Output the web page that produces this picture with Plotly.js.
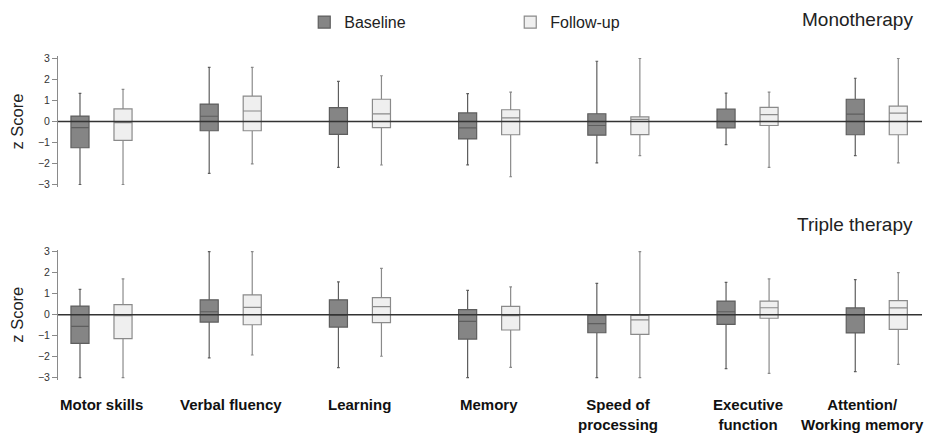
<!DOCTYPE html>
<html>
<head>
<meta charset="utf-8">
<script src="https://cdn.plot.ly/plotly-3.0.1.min.js"></script>
<style>html,body{margin:0;padding:0;background:#fff;}#chart{width:927px;height:434px;}</style>
</head>
<body>
<div id="chart"></div>
<script>
const categories = ['Motor skills','Verbal fluency','Learning','Memory','Speed of processing','Executive function','Attention/ Working memory'];
const categoryLabels = ['Motor skills','Verbal fluency','Learning','Memory','Speed of<br>processing','Executive<br>function','Attention/<br>Working memory'];
const yTicks = [-3,-2,-1,0,1,2,3];

// Monotherapy - Baseline
const monoBaseUpper  = [1.34, 2.58, 1.91, 1.33, 2.87, 1.35, 2.06];
const monoBaseQ3     = [0.26, 0.83, 0.66, 0.41, 0.37, 0.59, 1.06];
const monoBaseMedian = [-0.29, 0.25, 0.00, -0.30, -0.19, 0.00, 0.35];
const monoBaseQ1     = [-1.25, -0.44, -0.61, -0.83, -0.65, -0.30, -0.63];
const monoBaseLower  = [-3.00, -2.47, -2.18, -2.06, -1.97, -1.10, -1.62];
// Monotherapy - Follow-up
const monoFuUpper  = [1.53, 2.58, 2.18, 1.40, 3.00, 1.40, 3.00];
const monoFuQ3     = [0.60, 1.21, 1.06, 0.56, 0.22, 0.67, 0.73];
const monoFuMedian = [-0.05, 0.50, 0.36, 0.17, 0.10, 0.33, 0.40];
const monoFuQ1     = [-0.90, -0.44, -0.29, -0.63, -0.62, -0.19, -0.63];
const monoFuLower  = [-3.00, -2.02, -2.07, -2.63, -1.62, -2.18, -1.97];
// Triple therapy - Baseline
const triBaseUpper  = [1.21, 3.00, 1.56, 1.16, 1.49, 1.54, 1.67];
const triBaseQ3     = [0.41, 0.71, 0.71, 0.24, -0.02, 0.65, 0.32];
const triBaseMedian = [-0.56, 0.14, -0.03, -0.32, -0.43, 0.14, 0.00];
const triBaseQ1     = [-1.37, -0.35, -0.59, -1.16, -0.86, -0.46, -0.87];
const triBaseLower  = [-3.00, -2.06, -2.52, -3.00, -3.00, -2.57, -2.71];
// Triple therapy - Follow-up
const triFuUpper  = [1.71, 3.00, 2.21, 1.32, 3.00, 1.71, 2.00];
const triFuQ3     = [0.48, 0.94, 0.81, 0.40, -0.03, 0.65, 0.67];
const triFuMedian = [-0.05, 0.35, 0.38, -0.04, -0.25, 0.33, 0.32];
const triFuQ1     = [-1.14, -0.48, -0.38, -0.73, -0.94, -0.17, -0.70];
const triFuLower  = [-3.00, -1.92, -1.98, -2.51, -3.00, -2.79, -2.37];

const baseStyle = {fillcolor:'#858585', line:{color:'#5e5e5e', width:1.2}};
const fuStyle   = {fillcolor:'#efefef', line:{color:'#8a8a8a', width:1.2}};

function boxTrace(name, style, upper, q3, med, q1, lower, xa, ya, showlegend){
  return {
    type:'box', name:name, legendgroup:name, showlegend:showlegend,
    x:categories, upperfence:upper, q3:q3, median:med, q1:q1, lowerfence:lower,
    boxpoints:false, whiskerwidth:0.15,
    fillcolor:style.fillcolor, line:style.line,
    xaxis:xa, yaxis:ya, offsetgroup:name, hoverinfo:'skip'
  };
}

const data = [
  boxTrace('Baseline', baseStyle, monoBaseUpper, monoBaseQ3, monoBaseMedian, monoBaseQ1, monoBaseLower, 'x', 'y', true),
  boxTrace('Follow-up', fuStyle, monoFuUpper, monoFuQ3, monoFuMedian, monoFuQ1, monoFuLower, 'x', 'y', true),
  boxTrace('Baseline', baseStyle, triBaseUpper, triBaseQ3, triBaseMedian, triBaseQ1, triBaseLower, 'x2', 'y2', false),
  boxTrace('Follow-up', fuStyle, triFuUpper, triFuQ3, triFuMedian, triFuQ1, triFuLower, 'x2', 'y2', false)
];

const fontFam = '"Liberation Sans", Arial, sans-serif';
const xRange = [-0.3367, 6.35];
const yAxisCommon = {
  range:[-3.1, 3.1], tickvals:yTicks, ticks:'outside', ticklen:5, tickcolor:'#8a8a8a',
  showline:true, linecolor:'#8a8a8a', linewidth:1, showgrid:false, zeroline:false,
  tickfont:{family:fontFam, size:10.5, color:'#333'}, automargin:false,
  title:{text:'z Score', font:{family:fontFam, size:16.5, color:'#222'}, standoff:10}
};

// category labels below the lower panel, positioned on the category axis
const catAnnotations = categories.map((c, i) => ({
  text:categoryLabels[i], xref:'x2', yref:'paper', x:c, y:0.0922,
  xanchor:'center', yanchor:'top', showarrow:false, align:'center',
  xshift:(i === categories.length - 1 ? -14 : 0),
  font:{family:fontFam, size:15, color:'#111', weight:'bold'}
}));

const layout = {
  width:927, height:434,
  margin:{l:58, r:5, t:0, b:0},
  paper_bgcolor:'#fff', plot_bgcolor:'rgba(0,0,0,0)',
  boxmode:'group', boxgap:0.334, boxgroupgap:0.58,
  font:{family:fontFam, color:'#222'},
  xaxis:{domain:[0,1], anchor:'y', type:'category', range:xRange, showticklabels:false, ticks:'', showline:false, showgrid:false, zeroline:false, automargin:false},
  xaxis2:{domain:[0,1], anchor:'y2', type:'category', range:xRange, showticklabels:false, ticks:'', showline:false, showgrid:false, zeroline:false, automargin:false},
  yaxis:Object.assign({domain:[0.570, 0.870], anchor:'x'}, yAxisCommon),
  yaxis2:Object.assign({domain:[0.1249, 0.4249], anchor:'x2'}, yAxisCommon),
  shapes:[
    {type:'line', xref:'x domain', yref:'y', x0:0, x1:1, y0:0, y1:0, layer:'above', line:{color:'#333', width:1.5}},
    {type:'line', xref:'x2 domain', yref:'y2', x0:0, x1:1, y0:0, y1:0, layer:'above', line:{color:'#333', width:1.5}}
  ],
  annotations:[
    {text:'Monotherapy', xref:'paper', yref:'paper', x:0.992, y:0.954, xanchor:'right', yanchor:'middle', showarrow:false, font:{family:fontFam, size:19, color:'#222'}},
    {text:'Triple therapy', xref:'paper', yref:'paper', x:0.992, y:0.4816, xanchor:'right', yanchor:'middle', showarrow:false, font:{family:fontFam, size:19, color:'#222'}}
  ].concat(catAnnotations),
  legend:{orientation:'h', x:0.285, xanchor:'left', y:0.949, yanchor:'middle', font:{family:fontFam, size:16, color:'#222'},
    entrywidth:161, entrywidthmode:'pixels', bgcolor:'rgba(0,0,0,0)', traceorder:'normal'}
};

Plotly.newPlot('chart', data, layout, {displayModeBar:false, staticPlot:true});
</script>
</body>
</html>
